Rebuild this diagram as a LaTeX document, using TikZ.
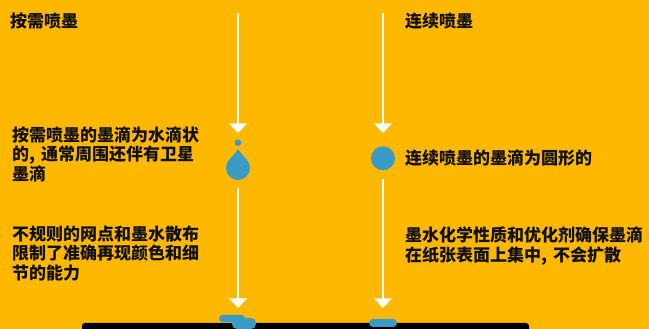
\documentclass[tikz,border=0pt]{standalone}
\usepackage{fontspec}
\setmainfont{Noto Sans CJK SC}
\usetikzlibrary{arrows.meta}
\definecolor{bgorange}{HTML}{FFB800}
\definecolor{inkblue}{HTML}{3A9BC6}
\definecolor{txt}{HTML}{111111}
\tikzset{
  flow/.style={draw=white, line width=2.6pt, -{Triangle[width=17.5pt,length=9.5pt]}},
  lbl/.style={inner sep=0pt, anchor=west, align=left, text=txt, font=\fontsize{17}{19.5}\selectfont\bfseries},
  ink/.style={fill=inkblue, draw=none},
}
\begin{document}
\begin{tikzpicture}[x=1pt,y=1pt]
\useasboundingbox (0,0) rectangle (649,329);
\fill[bgorange] (0,0) rectangle (649,329);
% titles
\node[lbl] (t1) at (10,308) {按需喷墨};
\node[lbl] (t2) at (405,308) {连续喷墨};
% connector coordinates
\coordinate (a1s) at (238,316);
\coordinate (a1e) at (238,196);
\coordinate (a2s) at (238,141);
\coordinate (a2e) at (238,21);
\coordinate (b1s) at (383,316);
\coordinate (b1e) at (383,196);
\coordinate (b2s) at (383,150);
\coordinate (b2e) at (383,21);
\draw[flow] (a1s) -- (a1e);
\draw[flow] (a2s) -- (a2e);
\draw[flow] (b1s) -- (b1e);
\draw[flow] (b2s) -- (b2e);
% drops
\fill[ink] (238,186.3) circle (3.3);
\fill[ink] (238,180) .. controls (235,174) and (226,169) .. (226,161)
  arc (180:360:12) .. controls (250,169) and (241,174) .. (238,180) -- cycle;
\fill[ink] (383,170.7) circle (12);
% paper
\fill[black, rounded corners=3pt] (82,-4) rectangle (529,6);
% ink on paper
\fill[ink, rounded corners=3.5pt] (219,7) rectangle (245,14);
\fill[ink, rounded corners=5pt] (232,0) rectangle (256,11);
\fill[ink, rounded corners=4pt] (369,2) rectangle (397,10);
% texts
\node[lbl] (l1) at (12,175) {按需喷墨的墨滴为水滴状\\的,\kern6pt 通常周围还伴有卫星\\墨滴};
\node[lbl] (l2) at (12,75.5) {不规则的网点和墨水散布\\限制了准确再现颜色和细\\节的能力};
\node[lbl] (r1) at (405,171) {连续喷墨的墨滴为圆形的};
\node[lbl] (r2) at (405,83) {墨水化学性质和优化剂确保墨滴\\在纸张表面上集中,\kern6pt 不会扩散};
\end{tikzpicture}
\end{document}
